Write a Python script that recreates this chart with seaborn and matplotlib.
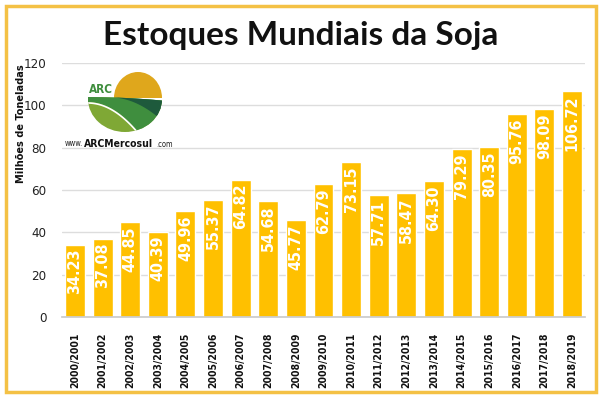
import numpy as np
import matplotlib
matplotlib.use('Agg')
import matplotlib.pyplot as plt
import matplotlib.patches as mpatches
import seaborn as sns
import pandas as pd

safras = ["2000/2001", "2001/2002", "2002/2003", "2003/2004", "2004/2005",
          "2005/2006", "2006/2007", "2007/2008", "2008/2009", "2009/2010",
          "2010/2011", "2011/2012", "2012/2013", "2013/2014", "2014/2015",
          "2015/2016", "2016/2017", "2017/2018", "2018/2019"]
estoques = [34.23, 37.08, 44.85, 40.39, 49.96, 55.37, 64.82, 54.68, 45.77,
            62.79, 73.15, 57.71, 58.47, 64.30, 79.29, 80.35, 95.76, 98.09, 106.72]
yticks = [0, 20, 40, 60, 80, 100, 120]

df = pd.DataFrame({"safra": safras, "estoque": estoques})

sns.set_theme(style="white")
plt.rcParams['font.family'] = ['DejaVu Sans']
plt.rcParams['font.stretch'] = 'condensed'

AMARELO = "#FFC000"
W, H = 602, 398
fig = plt.figure(figsize=(W / 100, H / 100), dpi=100)

# moldura dourada
fig.patches.append(mpatches.Rectangle((6 / W, 6 / H), 590 / W, 386 / H,
                                      transform=fig.transFigure, fill=False,
                                      edgecolor="#F4C145", linewidth=2.5))

fig.text(0.5, 1 - 35 / H, "Estoques Mundiais da Soja", ha="center", va="center",
         fontsize=24, fontweight="bold", family=["Lato"], color="#111111")

ax = fig.add_axes([62 / W, 1 - 317 / H, 523 / W, 254 / H])
sns.barplot(data=df, x="safra", y="estoque", color=AMARELO, width=0.72,
            saturation=1, ax=ax)

for i, v in enumerate(estoques):
    ax.annotate(f"{v:.2f}", (i, v), xytext=(0, -3), textcoords="offset points",
                rotation=90, ha="center", va="top", color="white",
                fontsize=11.5, fontweight="bold")

ax.set_ylim(0, 120)
ax.set_xlim(-0.47, 18.47)
ax.set_yticks(yticks)
ax.yaxis.grid(True, color="#dddddd", linewidth=1)
ax.set_axisbelow(True)
for s in ["top", "right", "left"]:
    ax.spines[s].set_visible(False)
ax.spines["bottom"].set_color("#cccccc")
ax.tick_params(axis="y", length=0, labelsize=9.5, colors="#222222", pad=11)
ax.tick_params(axis="x", length=0, labelsize=7.5, pad=11)
plt.setp(ax.get_xticklabels(), rotation=90, fontweight="bold", color="#111111")
ax.set_xlabel("")
ax.set_ylabel("Milhões de Toneladas", fontsize=7.8, fontweight="bold", color="#111111")
ax.yaxis.set_label_coords(-36 / 523, 0.76)

# logotipo ARC
lax = fig.add_axes([60 / W, 1 - 150 / H, 120 / W, 84 / H])
lax.set_xlim(60, 180)
lax.set_ylim(150, 66)
lax.axis("off")

cima = mpatches.Rectangle((60, 60), 120, 38, transform=lax.transData)
baixo = mpatches.Ellipse((125, 99), 74, 66, transform=lax.transData)

sol = mpatches.Ellipse((138, 98), 48, 52, facecolor="#DFA71C", edgecolor="none")
lax.add_patch(sol)
sol.set_clip_path(cima)

xs = np.linspace(85, 165, 60)
borda = 97 + 0.0006 * (xs - 85) ** 2
meio = borda + 0.008 * np.clip(xs - 112, 0, None) ** 2
curva = 102 + 0.012 * np.clip(xs - 88, 0, None) ** 2
faixas = [
    (borda, np.full(60, 140.0), "#7FA835"),
    (borda, np.minimum(curva, 140), "#3F8E3E"),
    (borda, np.minimum(meio, 140), "#1E5A3C"),
]
for topo, fundo, cor in faixas:
    p = mpatches.Polygon(np.column_stack([np.r_[xs, xs[::-1]], np.r_[topo, fundo[::-1]]]),
                         facecolor=cor, edgecolor="none")
    lax.add_patch(p)
    p.set_clip_path(baixo)
linha, = lax.plot(xs, curva + 1, color="white", linewidth=1.2)
linha.set_clip_path(baixo)

lax.text(89, 96, "ARC", color="#3F8E3E", fontsize=8.5, fontweight="bold",
         ha="left", va="bottom")
lax.text(83, 144, "www.", fontsize=5.5, ha="right", va="center", color="#222222")
lax.text(84, 144, "ARCMercosul", fontsize=7.5, fontweight="bold", ha="left",
         va="center", color="#111111")
lax.text(156, 144.5, ".com", fontsize=5.5, ha="left", va="center", color="#222222")

fig.savefig("out.png", dpi=100)
